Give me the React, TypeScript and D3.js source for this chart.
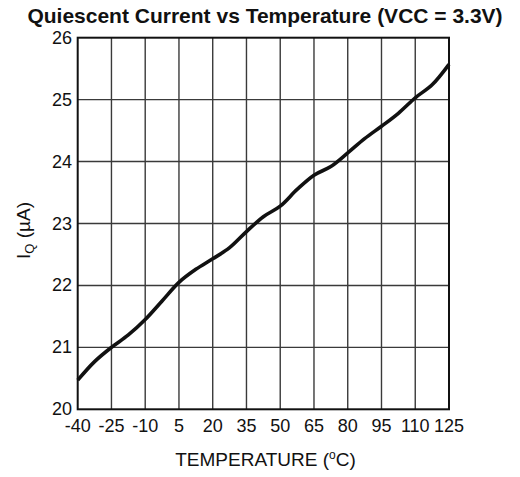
import * as d3 from 'd3';
import React, { useRef, useEffect } from 'react';

// temperature (°C) and quiescent current (µA)
const tempC = [-40, -32.5, -25, -17.5, -10, -2.5, 5, 12.5, 20, 27.5, 35, 42.5, 50, 57.5, 65, 72.5, 80, 87.5, 95, 102.5, 110, 117.5, 125];
const iqUA = [20.47, 20.77, 21.0, 21.2, 21.45, 21.75, 22.05, 22.26, 22.43, 22.61, 22.87, 23.11, 23.28, 23.55, 23.78, 23.92, 24.14, 24.37, 24.57, 24.78, 25.03, 25.24, 25.57];

const xTicks = [-40, -25, -10, 5, 20, 35, 50, 65, 80, 95, 110, 125];
const yTicks = [20, 21, 22, 23, 24, 25, 26];

const width = 520;
const height = 477;
const margin = { top: 37.7, right: 71, bottom: 67.7, left: 77.7 };

function App() {
    const ref = useRef(null);

    useEffect(() => {
        draw();
    }, []);

    const draw = () => {
        const svg = d3.select(ref.current);
        svg.selectAll("*").remove();

        const x = d3.scaleLinear()
            .domain([-40, 125])
            .range([margin.left, width - margin.right]);

        const y = d3.scaleLinear()
            .domain([20, 26])
            .range([height - margin.bottom, margin.top]);

        const font = "'Liberation Sans', Arial, sans-serif";

        svg.append("rect")
            .attr("width", width)
            .attr("height", height)
            .attr("fill", "#fff");

        // title
        svg.append("text")
            .attr("x", 265)
            .attr("y", 22.5)
            .attr("text-anchor", "middle")
            .attr("font-family", font)
            .attr("font-weight", "bold")
            .attr("font-size", 21)
            .attr("fill", "#111")
            .text("Quiescent Current vs Temperature (VCC = 3.3V)");

        // grid
        const grid = svg.append("g")
            .attr("stroke", "#3a3a3a")
            .attr("stroke-width", 1.4);

        grid.selectAll("line.v")
            .data(xTicks.slice(1, -1))
            .enter()
            .append("line")
            .attr("x1", d => x(d))
            .attr("x2", d => x(d))
            .attr("y1", y(20))
            .attr("y2", y(26));

        grid.selectAll("line.h")
            .data(yTicks.slice(1, -1))
            .enter()
            .append("line")
            .attr("x1", x(-40))
            .attr("x2", x(125))
            .attr("y1", d => y(d))
            .attr("y2", d => y(d));

        // frame
        svg.append("rect")
            .attr("x", x(-40))
            .attr("y", y(26))
            .attr("width", x(125) - x(-40))
            .attr("height", y(20) - y(26))
            .attr("fill", "none")
            .attr("stroke", "#111")
            .attr("stroke-width", 2);

        // tick labels
        svg.selectAll("text.xt")
            .data(xTicks)
            .enter()
            .append("text")
            .attr("x", d => x(d))
            .attr("y", 431.5)
            .attr("text-anchor", "middle")
            .attr("font-family", font)
            .attr("font-size", 18)
            .attr("fill", "#111")
            .text(d => d);

        svg.selectAll("text.yt")
            .data(yTicks)
            .enter()
            .append("text")
            .attr("x", 72)
            .attr("y", d => y(d) + 6)
            .attr("text-anchor", "end")
            .attr("font-family", font)
            .attr("font-size", 18)
            .attr("fill", "#111")
            .text(d => d);

        // axis titles
        const xt = svg.append("text")
            .attr("x", 265.5)
            .attr("y", 466)
            .attr("text-anchor", "middle")
            .attr("font-family", font)
            .attr("font-size", 19)
            .attr("fill", "#111");
        xt.append("tspan").text("TEMPERATURE (");
        xt.append("tspan").attr("font-size", 12).attr("dy", -7).text("o");
        xt.append("tspan").attr("dy", 7).text("C)");

        const yt = svg.append("text")
            .attr("transform", "translate(30,230.5) rotate(-90)")
            .attr("text-anchor", "middle")
            .attr("font-family", font)
            .attr("font-size", 19)
            .attr("fill", "#111");
        yt.append("tspan").text("I");
        yt.append("tspan").attr("font-size", 13).attr("dy", 4).text("Q");
        yt.append("tspan").attr("dy", -4).text(" (\u00b5A)");

        // curve
        const line = d3.line()
            .x((d, i) => x(tempC[i]))
            .y(d => y(d))
            .curve(d3.curveCatmullRom.alpha(0.5));

        svg.append("path")
            .datum(iqUA)
            .attr("d", line)
            .attr("fill", "none")
            .attr("stroke", "#111")
            .attr("stroke-width", 3.6)
            .attr("stroke-linejoin", "round");
    }

    return (
        <div className="chart">
            <svg ref={ref} width={width} height={height}
                style={{ position: "absolute", left: 0, top: 0 }}>
            </svg>
        </div>
    )
}

export default App;
